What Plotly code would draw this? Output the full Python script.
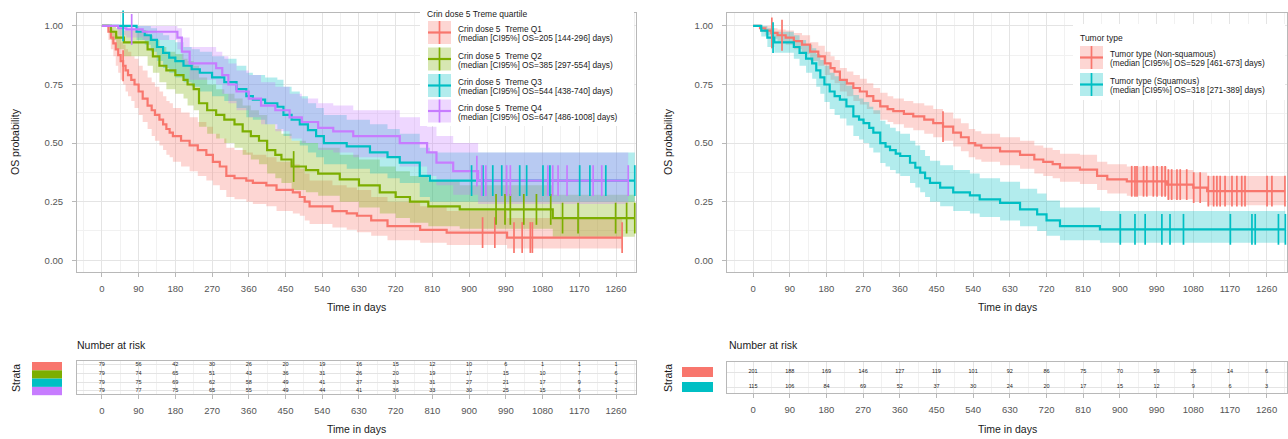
import numpy as np
import plotly.graph_objects as go

W, H = 1288, 439

# ---------------- DATA ----------------
ticks_days = [0, 90, 180, 270, 360, 450, 540, 630, 720, 810, 900, 990, 1080, 1170, 1260]

# Left panel: Crin dose 5 Treme quartile
q1_t  = [0, 16, 22, 28, 34, 40, 46, 52, 58, 64, 72, 80, 90, 100, 112, 122, 130, 141, 150, 158, 166, 174, 194, 215, 235, 256, 272, 289, 305, 325, 354, 370, 403, 428, 468, 485, 497, 509, 565, 600, 625, 660, 700, 780, 845, 993]
q1_s  = [1.0, .975, .95, .925, .90, .875, .85, .83, .81, .79, .77, .75, .72, .69, .66, .64, .62, .60, .58, .56, .545, .53, .51, .49, .47, .45, .42, .40, .36, .35, .34, .33, .32, .30, .29, .27, .25, .23, .21, .20, .19, .17, .146, .13, .118, .097]
q1_lo = [1.0, .94, .90, .87, .83, .80, .77, .75, .72, .70, .68, .65, .62, .59, .56, .53, .51, .49, .47, .45, .44, .42, .40, .38, .36, .34, .32, .30, .27, .26, .25, .24, .23, .21, .20, .19, .17, .155, .14, .13, .12, .105, .085, .075, .065, .05]
q1_hi = [1.0, 1.0, .99, .98, .96, .95, .93, .92, .90, .89, .87, .86, .83, .81, .78, .76, .74, .72, .70, .68, .67, .65, .63, .61, .59, .57, .54, .52, .48, .47, .46, .45, .44, .42, .41, .39, .37, .34, .32, .31, .30, .27, .25, .23, .21, .18]
q1_cens = [52, 933, 963, 1010, 1030, 1050, 1055, 1275]

q2_t  = [0, 22, 35, 54, 112, 125, 141, 158, 180, 200, 210, 225, 238, 258, 280, 300, 325, 345, 365, 385, 405, 425, 440, 465, 500, 530, 583, 630, 681, 720, 755, 800, 877, 1105]
q2_s  = [1.0, .975, .95, .93, .90, .87, .83, .81, .79, .77, .75, .73, .67, .64, .62, .60, .58, .55, .53, .51, .47, .45, .43, .40, .385, .37, .345, .32, .29, .27, .25, .23, .217, .18]
q2_lo = [1.0, .94, .90, .87, .83, .80, .76, .73, .71, .69, .66, .64, .57, .54, .52, .50, .48, .45, .43, .41, .37, .35, .33, .30, .29, .275, .25, .225, .20, .18, .16, .145, .135, .10]
q2_hi = [1.0, 1.0, .99, .98, .96, .94, .91, .89, .88, .86, .85, .83, .78, .75, .73, .71, .69, .66, .64, .62, .58, .56, .54, .51, .50, .48, .45, .43, .40, .38, .36, .34, .32, .28]
q2_cens = [470, 966, 988, 1001, 1034, 1065, 1100, 1129, 1167, 1259, 1286, 1306]

q3_t  = [0, 85, 105, 120, 135, 150, 165, 180, 200, 220, 240, 270, 300, 330, 354, 370, 400, 430, 445, 465, 485, 505, 525, 544, 600, 657, 700, 730, 779, 804]
q3_s  = [1.0, .975, .96, .94, .91, .885, .865, .85, .83, .815, .80, .78, .76, .73, .70, .685, .67, .655, .62, .60, .58, .555, .53, .50, .486, .46, .44, .417, .36, .34]
q3_lo = [1.0, .94, .92, .89, .85, .82, .80, .78, .76, .74, .72, .70, .68, .65, .61, .60, .58, .56, .53, .51, .49, .46, .44, .41, .39, .37, .35, .33, .27, .25]
q3_hi = [1.0, 1.0, 1.0, .99, .97, .96, .94, .93, .91, .90, .89, .87, .86, .83, .80, .79, .78, .77, .74, .72, .70, .67, .65, .62, .60, .58, .56, .54, .48, .46]
q3_cens = [52, 906, 934, 958, 980, 1024, 1041, 1081, 1098, 1171, 1196, 1235, 1306]

q4_t  = [0, 40, 60, 100, 185, 196, 215, 280, 295, 310, 330, 360, 390, 425, 460, 490, 530, 567, 616, 730, 797, 820, 861, 922]
q4_s  = [1.0, .99, .985, .975, .95, .89, .84, .82, .79, .75, .72, .69, .66, .64, .61, .59, .565, .55, .53, .50, .46, .417, .38, .34]
q4_lo = [1.0, .96, .95, .94, .90, .83, .77, .75, .71, .67, .64, .61, .58, .55, .52, .50, .47, .46, .44, .40, .36, .32, .28, .24]
q4_hi = [1.0, 1.0, 1.0, 1.0, .99, .95, .91, .89, .87, .84, .81, .79, .76, .74, .71, .69, .67, .66, .64, .61, .57, .53, .50, .46]
q4_cens = [73, 919, 931, 941, 992, 1001, 1093, 1105, 1118, 1140, 1204, 1225, 1290]

quart_names = ["Crin dose 5  Treme Q1", "Crin dose 5  Treme Q2", "Crin dose 5  Treme Q3", "Crin dose 5  Treme Q4"]
quart_medians = ["(median [CI95%] OS=205 [144-296] days)", "(median [CI95%] OS=385 [297-554] days)",
                 "(median [CI95%] OS=544 [438-740] days)", "(median [CI95%] OS=647 [486-1008] days)"]
quart_risk = [
    [79, 56, 42, 30, 26, 20, 19, 16, 15, 12, 10, 6, 1, 1, 1],
    [79, 74, 65, 51, 43, 36, 31, 26, 20, 19, 17, 15, 10, 7, 6],
    [79, 75, 69, 62, 58, 49, 41, 37, 33, 31, 27, 21, 17, 9, 3],
    [79, 77, 75, 65, 55, 49, 44, 41, 36, 33, 30, 25, 15, 6, 1],
]

# Right panel: Tumor type
ns_t  = [0, 17, 30, 45, 60, 80, 100, 120, 140, 160, 176, 190, 200, 213, 230, 246, 262, 279, 295, 312, 330, 344, 370, 393, 420, 442, 466, 491, 510, 529, 545, 560, 606, 655, 690, 712, 735, 753, 802, 844, 869, 917, 1016, 1080, 1114]
ns_s  = [1.0, .99, .98, .97, .96, .95, .935, .92, .89, .87, .84, .82, .805, .77, .755, .735, .72, .70, .68, .657, .645, .636, .625, .614, .60, .585, .57, .545, .525, .50, .49, .48, .465, .45, .43, .42, .41, .395, .387, .36, .345, .337, .323, .31, .295]
ns_lo = [1.0, .975, .96, .945, .93, .92, .90, .88, .85, .83, .79, .77, .755, .72, .70, .68, .665, .645, .625, .60, .59, .58, .565, .555, .54, .525, .51, .485, .465, .44, .43, .42, .405, .39, .37, .36, .35, .335, .325, .30, .285, .275, .26, .25, .235]
ns_hi = [1.0, 1.0, 1.0, .99, .985, .98, .97, .96, .93, .915, .89, .87, .855, .82, .805, .79, .775, .755, .735, .715, .70, .69, .68, .67, .66, .645, .63, .605, .585, .56, .55, .54, .525, .51, .49, .48, .47, .455, .45, .42, .41, .40, .385, .375, .36]
ns_cens = [46, 71, 466, 929, 937, 942, 958, 966, 982, 991, 1003, 1011, 1019, 1027, 1040, 1048, 1064, 1081, 1097, 1117, 1130, 1138, 1146, 1158, 1175, 1187, 1199, 1207, 1261, 1273, 1305]

sq_t  = [0, 20, 35, 52, 100, 114, 130, 145, 155, 165, 175, 188, 200, 213, 229, 246, 260, 271, 285, 295, 312, 325, 336, 350, 361, 385, 398, 410, 422, 434, 459, 491, 532, 556, 606, 655, 697, 720, 753, 851]
sq_s  = [1.0, .98, .95, .93, .91, .885, .86, .84, .81, .78, .75, .72, .70, .685, .657, .614, .60, .585, .565, .545, .50, .485, .47, .455, .445, .416, .395, .374, .35, .33, .31, .29, .277, .26, .245, .217, .196, .17, .146, .132]
sq_lo = [1.0, .955, .91, .885, .86, .83, .80, .775, .74, .71, .675, .645, .62, .605, .575, .53, .515, .50, .48, .46, .415, .40, .385, .37, .36, .33, .31, .29, .27, .25, .23, .21, .20, .185, .17, .145, .125, .105, .085, .075]
sq_hi = [1.0, 1.0, .99, .975, .96, .94, .92, .905, .88, .855, .83, .80, .785, .77, .745, .705, .69, .675, .655, .64, .595, .58, .565, .55, .54, .51, .49, .47, .445, .425, .405, .385, .37, .35, .335, .305, .285, .255, .225, .21]
sq_cens = [49, 901, 937, 962, 1003, 1023, 1056, 1171, 1224, 1232, 1289, 1306]

tumor_names = ["Tumor type (Non-squamous)", "Tumor type (Squamous)"]
tumor_medians = ["(median [CI95%] OS=529 [461-673] days)", "(median [CI95%] OS=318 [271-389] days)"]
tumor_risk = [
    [201, 188, 169, 146, 127, 119, 101, 92, 86, 75, 70, 59, 35, 14, 6],
    [115, 106, 84, 69, 52, 37, 30, 24, 20, 17, 15, 12, 9, 6, 3],
]

# ---------------- STYLE ----------------
COL4 = ["#F8766D", "#7CAE00", "#00BFC4", "#C77CFF"]
COL2 = ["#F8766D", "#00BFC4"]
FONT = "Liberation Sans, Arial, sans-serif"
GRID = "#E4E4E4"
MINOR = "#F1F1F1"
BORDER = "#B8B8B8"
TICKC = "#555555"


def rgba(hexc, a):
    h = hexc.lstrip("#")
    return "rgba(%d,%d,%d,%.2f)" % (int(h[0:2], 16), int(h[2:4], 16), int(h[4:6], 16), a)


def px(x):
    return x / W


def py(y):
    return 1 - y / H


fig = go.Figure()


def add_km(t, s, lo, hi, cens, color, xa, ya):
    end = max(cens)
    tt = list(t) + [end]
    ss = list(s) + [s[-1]]
    ll = list(lo) + [lo[-1]]
    uu = list(hi) + [hi[-1]]
    fig.add_trace(go.Scatter(x=tt, y=ll, mode="lines", line=dict(width=0, shape="hv"),
                             hoverinfo="skip", showlegend=False, xaxis=xa, yaxis=ya))
    fig.add_trace(go.Scatter(x=tt, y=uu, mode="lines", line=dict(width=0, shape="hv"),
                             fill="tonexty", fillcolor=rgba(color, 0.3),
                             hoverinfo="skip", showlegend=False, xaxis=xa, yaxis=ya))
    return tt, ss


def add_line(tt, ss, color, xa, ya):
    fig.add_trace(go.Scatter(x=tt, y=ss, mode="lines", line=dict(width=2.2, shape="hv", color=color),
                             showlegend=False, xaxis=xa, yaxis=ya))


def add_cens(t, s, cens, color, xa, ya):
    ta = np.array(t)
    idx = np.searchsorted(ta, np.array(cens), side="right") - 1
    cy = [s[i] for i in idx]
    fig.add_trace(go.Scatter(x=cens, y=cy, mode="markers",
                             marker=dict(symbol="line-ns", size=22, color=color,
                                         line=dict(width=1.7, color=color)),
                             showlegend=False, xaxis=xa, yaxis=ya, cliponaxis=False))


left_series = [(q1_t, q1_s, q1_lo, q1_hi, q1_cens), (q2_t, q2_s, q2_lo, q2_hi, q2_cens),
               (q3_t, q3_s, q3_lo, q3_hi, q3_cens), (q4_t, q4_s, q4_lo, q4_hi, q4_cens)]
right_series = [(ns_t, ns_s, ns_lo, ns_hi, ns_cens), (sq_t, sq_s, sq_lo, sq_hi, sq_cens)]

for series, cols, xa, ya in [(left_series, COL4, "x", "y"), (right_series, COL2, "x2", "y2")]:
    steps = []
    for (t, s, lo, hi, c), col in zip(series, cols):
        steps.append(add_km(t, s, lo, hi, c, col, xa, ya))
    for (tt, ss), col in zip(steps, cols):
        add_line(tt, ss, col, xa, ya)
    for (t, s, lo, hi, c), col in zip(series, cols):
        add_cens(t, s, c, col, xa, ya)

# risk tables
for risk, xa, ya in [(quart_risk, "x3", "y3"), (tumor_risk, "x4", "y4")]:
    nrow = len(risk)
    for i, row in enumerate(risk):
        fig.add_trace(go.Scatter(x=ticks_days, y=[nrow - 1 - i] * len(ticks_days), mode="text",
                                 text=[str(v) for v in row],
                                 textfont=dict(size=5.5, color="#222222", family=FONT),
                                 showlegend=False, hoverinfo="skip", xaxis=xa, yaxis=ya))

# ---------------- AXES ----------------
def xax(dom, rng, labels=True):
    return dict(domain=dom, range=rng, tickmode="array", tickvals=ticks_days,
                ticktext=[str(v) for v in ticks_days], showgrid=True, gridcolor=GRID, gridwidth=1,
                minor=dict(tickmode="array", tickvals=list(range(-45, 1350, 90)), showgrid=True,
                           gridcolor=MINOR, gridwidth=0.6),
                zeroline=False, showline=True, mirror=True, linecolor=BORDER, linewidth=1,
                ticks="outside", ticklen=4, tickcolor=BORDER, ticklabelstandoff=4,
                tickfont=dict(size=9.5, color=TICKC, family=FONT), showticklabels=labels)


def yax(dom, anchor):
    return dict(domain=dom, range=[-0.05, 1.055], tickmode="array", tickvals=[0, 0.25, 0.5, 0.75, 1.0],
                ticktext=["0.00", "0.25", "0.50", "0.75", "1.00"], showgrid=True, gridcolor=GRID,
                minor=dict(tickmode="array", tickvals=[0.125, 0.375, 0.625, 0.875], showgrid=True,
                           gridcolor=MINOR, gridwidth=0.6),
                zeroline=False, showline=True, mirror=True, linecolor=BORDER, linewidth=1,
                ticks="outside", ticklen=4, tickcolor=BORDER, ticklabelstandoff=7,
                tickfont=dict(size=9.5, color=TICKC, family=FONT), anchor=anchor)


def ytab(dom, rng, n, anchor):
    return dict(domain=dom, range=rng, tickmode="array", tickvals=list(range(n)), showticklabels=False,
                ticks="", showgrid=True, gridcolor=GRID, zeroline=False, showline=True, mirror=True,
                linecolor=BORDER, linewidth=1, anchor=anchor)


LX = [px(77), px(636)]
RX = [px(727), px(1287)]
MAINY = [py(272), py(13)]

fig.update_layout(
    width=W, height=H, autosize=False, margin=dict(l=0, r=0, t=0, b=0),
    paper_bgcolor="white", plot_bgcolor="white", showlegend=False,
    font=dict(family=FONT),
    xaxis=dict(**xax(LX, [-61, 1309]), anchor="y"),
    yaxis=yax(MAINY, "x"),
    xaxis2=dict(**xax(RX, [-64, 1310]), anchor="y2"),
    yaxis2=yax(MAINY, "x2"),
    xaxis3=dict(**xax(LX, [-61, 1309]), anchor="y3"),
    yaxis3=ytab([py(394), py(361)], [-0.35, 3.46], 4, "x3"),
    xaxis4=dict(**xax(RX, [-64, 1310]), anchor="y4"),
    yaxis4=ytab([py(393), py(362)], [-0.4, 1.67], 2, "x4"),
)

shapes = []
annots = []


def text(x, y, s, size, color="#1A1A1A", xanchor="center", angle=0):
    annots.append(dict(x=px(x), y=py(y), xref="paper", yref="paper", text=s, showarrow=False,
                       xanchor=xanchor, yanchor="middle", textangle=angle,
                       font=dict(size=size, color=color, family=FONT)))


def rect(x0, y0, x1, y1, fill, line=None):
    shapes.append(dict(type="rect", xref="paper", yref="paper", x0=px(x0), x1=px(x1), y0=py(y1), y1=py(y0),
                       fillcolor=fill, line=dict(width=0) if line is None else line, layer="above"))


def seg(x0, y0, x1, y1, color, w):
    shapes.append(dict(type="line", xref="paper", yref="paper", x0=px(x0), x1=px(x1), y0=py(y0), y1=py(y1),
                       line=dict(color=color, width=w), layer="above"))


def legend_block(x_box0, x_box1, y_box0, y_box1, title, title_y, kx0, centers, names, meds, cols):
    rect(x_box0, y_box0, x_box1, y_box1, "white")
    text(x_box0 + 5, title_y, title, 8.5, xanchor="left")
    for c, n, m, col in zip(centers, names, meds, cols):
        rect(kx0, c - 11.5, kx0 + 23, c + 11.5, rgba(col, 0.3))
        seg(kx0, c, kx0 + 23, c, col, 2.2)
        seg(kx0 + 11.5, c - 11.5, kx0 + 11.5, c + 11.5, col, 1.7)
        text(kx0 + 28, c - 3.5, n, 8.3, xanchor="left")
        text(kx0 + 28, c + 5.5, m, 8.3, xanchor="left")


legend_block(420, 634, 3, 126, "Crin dose 5 Treme quartile", 14, 428, [32.5, 59, 85.5, 111],
             quart_names, quart_medians, COL4)
legend_block(1073, 1285, 24, 100, "Tumor type", 38, 1080, [57.5, 84.5],
             tumor_names, tumor_medians, COL2)

# axis titles
text(15, 142, "OS probability", 10.5, angle=-90)
text(668, 142, "OS probability", 10.5, angle=-90)
text(356, 307, "Time in days", 10.5)
text(1007, 307, "Time in days", 10.5)
text(75, 345, "Number at risk", 10.5, xanchor="left")
text(727, 345, "Number at risk", 10.5, xanchor="left")
text(356, 429, "Time in days", 10.5)
text(1007, 429, "Time in days", 10.5)
text(16, 378, "Strata", 10.5, angle=-90)
text(668, 378, "Strata", 10.5, angle=-90)

# strata colour keys
for i, col in enumerate(COL4):
    rect(32, 362 + 8.3 * i, 62, 362 + 8.3 * (i + 1), col)
rect(682, 367, 713, 377, COL2[0])
rect(682, 382, 713, 392, COL2[1])

fig.update_layout(shapes=shapes, annotations=annots)
fig.write_html("out.html")
